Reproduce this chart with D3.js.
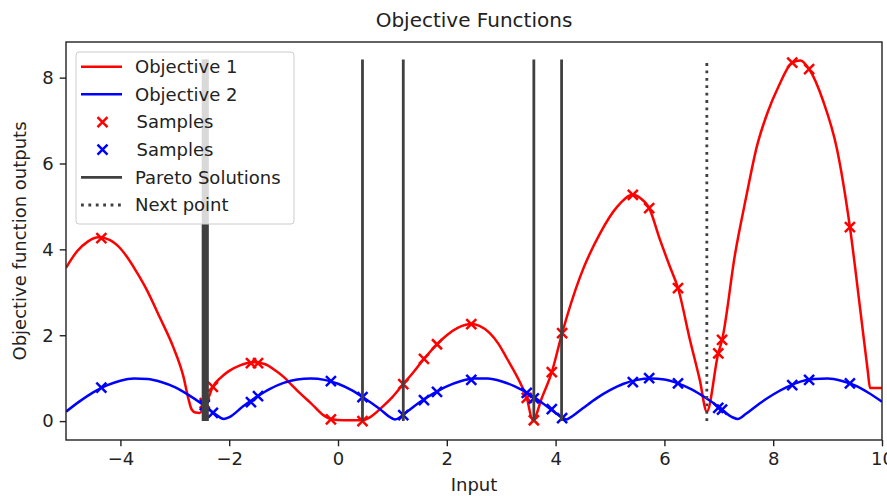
<!DOCTYPE html>
<html>
<head>
<meta charset="utf-8">
<script src="https://cdn.jsdelivr.net/npm/d3@7"></script>
<style>
  body { margin: 0; background: #fff; }
  text { font-family: "DejaVu Sans", sans-serif; fill: #222; }
</style>
</head>
<body>
<svg width="887" height="496"></svg>
<script>
// Chart data
const xTicks = [-4, -2, 0, 2, 4, 6, 8, 10]
const yTicks = [0, 2, 4, 6, 8]

const obj1X = [-5, -4.8, -4.6, -4.4, -4.2, -4.0, -3.88, -3.7, -3.52, -3.27, -3.03, -2.84, -2.75, -2.69, -2.62, -2.54, -2.48, -2.41,
    -2.3, -2.15, -2.0, -1.8, -1.55, -1.35, -1.15, -1.0, -0.88, -0.7, -0.5, -0.27, -0.13, 0.1, 0.3, 0.45, 0.6, 0.83, 1.0,
    1.2, 1.4, 1.58, 1.82, 2.0, 2.2, 2.45, 2.6, 2.79, 2.95, 3.1, 3.35, 3.47, 3.58, 3.75, 3.93, 4.12, 4.45, 4.82, 5.13,
    5.42, 5.55, 5.72, 5.92, 6.1, 6.25, 6.47, 6.65, 6.78, 6.99, 7.06, 7.3, 7.5, 7.7, 7.9, 8.1, 8.35, 8.5, 8.66, 8.92, 9.17,
    9.41, 9.6, 9.74, 9.78, 10]
const obj1Y = [3.57, 3.95, 4.18, 4.28, 4.22, 4.02, 3.83, 3.47, 3.07, 2.4, 1.73, 1.03, 0.52, 0.27, 0.2, 0.19, 0.28, 0.45,
    0.8, 1.02, 1.17, 1.3, 1.37, 1.33, 1.18, 1.03, 0.88, 0.65, 0.42, 0.14, 0.05, 0.02, 0.02, 0.02, 0.1, 0.35, 0.56,
    0.86, 1.16, 1.45, 1.79, 2.0, 2.17, 2.26, 2.22, 2.05, 1.8, 1.47, 0.89, 0.54, 0.02, 0.55, 1.14, 2.05, 3.36, 4.38, 4.99,
    5.27, 5.2, 4.96, 4.22, 3.6, 3.1, 1.89, 0.96, 0.22, 1.58, 1.89, 3.9, 5.2, 6.4, 7.2, 7.8, 8.35, 8.4, 8.2, 7.45, 6.35,
    4.52, 2.6, 1.15, 0.77, 0.77]

const obj2X = [-5, -4.75, -4.5, -4.25, -4.0, -3.75, -3.5, -3.25, -3.0, -2.75, -2.5, -2.25, -2.1, -2.0, -1.75, -1.5, -1.25,
    -1.0, -0.75, -0.5, -0.25, 0, 0.25, 0.5, 0.75, 1.0, 1.05, 1.25, 1.5, 1.75, 2.0, 2.25, 2.5, 2.75, 3.0, 3.25, 3.5, 3.75,
    4.0, 4.2, 4.25, 4.5, 4.75, 5.0, 5.25, 5.5, 5.75, 6.0, 6.25, 6.5, 6.75, 7.0, 7.25, 7.35, 7.5, 7.75, 8.0, 8.25, 8.5,
    8.75, 9.0, 9.25, 9.5, 9.75, 10]
const obj2Y = [0.22, 0.46, 0.67, 0.83, 0.94, 0.99, 0.98, 0.91, 0.79, 0.61, 0.4, 0.16, 0.05, 0.09, 0.34, 0.56, 0.75,
    0.89, 0.97, 0.99, 0.96, 0.87, 0.72, 0.52, 0.3, 0.06, 0.04, 0.2, 0.44, 0.64, 0.81, 0.93, 0.99, 0.99, 0.93, 0.81, 0.64, 0.43,
    0.19, 0.04, 0.07, 0.3, 0.53, 0.72, 0.87, 0.96, 0.99, 0.97, 0.88, 0.74, 0.55, 0.33, 0.09, 0.05, 0.17, 0.41, 0.62, 0.79, 0.92,
    0.98, 0.99, 0.94, 0.83, 0.66, 0.45]

const sampleX = [-4.35, -2.45, -2.3, -1.6, -1.47, -0.13, 0.45, 1.2, 1.58, 1.82, 2.45, 3.47, 3.6, 3.93, 4.12, 5.42, 5.72,
    6.25, 6.99, 7.06, 8.35, 8.66, 9.41]
const sample1Y = [4.26, 0.42, 0.8, 1.35, 1.35, 0.04, 0.0, 0.86, 1.45, 1.79, 2.26, 0.54, 0.02, 1.14, 2.05, 5.27, 4.96,
    3.1, 1.58, 1.89, 8.35, 8.2, 4.52]
const sample2Y = [0.78, 0.37, 0.19, 0.44, 0.58, 0.93, 0.56, 0.14, 0.49, 0.68, 0.96, 0.66, 0.53, 0.28, 0.07, 0.91, 1.0,
    0.88, 0.31, 0.27, 0.84, 0.96, 0.88]

const paretoX = [-2.48, -2.45, -2.42, -2.40, 0.45, 1.2, 3.6, 4.11]
const nextX = [6.78]
const vlineTop = 8.42

const legendLabels = ["Objective 1", "Objective 2", "Samples", "Samples", "Pareto Solutions", "Next point"]

// Layout
const svg = d3.select("svg")
const plotLeft = 66, plotRight = 882, plotTop = 42, plotBottom = 440
const fontSize = 18

const x = d3.scaleLinear().domain([-5, 10]).range([plotLeft, plotRight])
const y = d3.scaleLinear().domain([-0.44, 8.83]).range([plotBottom, plotTop])

const red = "#ff0000"
const blue = "#0000ff"
const gray = "#404040"

svg.append("clipPath").attr("id", "plotclip")
    .append("rect")
    .attr("x", plotLeft).attr("y", plotTop)
    .attr("width", plotRight - plotLeft).attr("height", plotBottom - plotTop)

const plot = svg.append("g").attr("clip-path", "url(#plotclip)")

const obj1 = obj1X.map((d, i) => [d, obj1Y[i]])
const obj2 = obj2X.map((d, i) => [d, obj2Y[i]])

const line = d3.line()
    .x(d => x(d[0]))
    .y(d => y(d[1]))
    .curve(d3.curveMonotoneX)

plot.append("path").datum(obj1)
    .attr("d", line)
    .attr("fill", "none")
    .attr("stroke", red)
    .attr("stroke-width", 2.5)
    .attr("stroke-linejoin", "round")

plot.append("path").datum(obj2)
    .attr("d", line)
    .attr("fill", "none")
    .attr("stroke", blue)
    .attr("stroke-width", 2.5)
    .attr("stroke-linejoin", "round")

const cross = "M-5,-5L5,5M-5,5L5,-5"

function drawSamples(ys, color) {
    plot.append("g")
        .selectAll("path")
        .data(sampleX.map((d, i) => [d, ys[i]]))
        .enter()
        .append("path")
        .attr("d", cross)
        .attr("transform", d => `translate(${x(d[0])},${y(d[1])})`)
        .attr("stroke", color)
        .attr("stroke-width", 2.5)
        .attr("fill", "none")
}

drawSamples(sample1Y, red)
drawSamples(sample2Y, blue)

plot.append("g")
    .selectAll("line")
    .data(paretoX)
    .enter()
    .append("line")
    .attr("x1", d => x(d)).attr("x2", d => x(d))
    .attr("y1", y(0)).attr("y2", y(vlineTop))
    .attr("stroke", gray)
    .attr("stroke-width", 2.8)

plot.append("g")
    .selectAll("line")
    .data(nextX)
    .enter()
    .append("line")
    .attr("x1", d => x(d)).attr("x2", d => x(d))
    .attr("y1", y(0)).attr("y2", y(vlineTop))
    .attr("stroke", gray)
    .attr("stroke-width", 2.8)
    .attr("stroke-dasharray", "2.8,4.6")

// Axes
const xAxis = svg.append("g")
    .attr("transform", `translate(0,${plotBottom})`)
    .call(d3.axisBottom(x).tickValues(xTicks).tickSize(6.3).tickPadding(6))
const yAxis = svg.append("g")
    .attr("transform", `translate(${plotLeft},0)`)
    .call(d3.axisLeft(y).tickValues(yTicks).tickSize(6.3).tickPadding(6))

for (const ax of [xAxis, yAxis]) {
    ax.select(".domain").remove()
    ax.selectAll(".tick line").attr("stroke", "#222").attr("stroke-width", 1.4)
    ax.selectAll(".tick text")
        .attr("font-size", fontSize)
        .attr("font-family", "DejaVu Sans")
        .attr("fill", "#222")
}

svg.append("rect")
    .attr("x", plotLeft).attr("y", plotTop)
    .attr("width", plotRight - plotLeft).attr("height", plotBottom - plotTop)
    .attr("fill", "none")
    .attr("stroke", "#222")
    .attr("stroke-width", 1.4)

svg.append("text")
    .attr("x", (plotLeft + plotRight) / 2).attr("y", 27)
    .attr("text-anchor", "middle")
    .attr("font-size", 20)
    .text("Objective Functions")

svg.append("text")
    .attr("x", (plotLeft + plotRight) / 2).attr("y", 491)
    .attr("text-anchor", "middle")
    .attr("font-size", fontSize)
    .text("Input")

svg.append("text")
    .attr("transform", `translate(26,${(plotTop + plotBottom) / 2}) rotate(-90)`)
    .attr("text-anchor", "middle")
    .attr("font-size", fontSize)
    .text("Objective function outputs")

// Legend
const legend = svg.append("g")
legend.append("rect")
    .attr("x", 76).attr("y", 52)
    .attr("width", 218).attr("height", 172)
    .attr("rx", 3)
    .attr("fill", "rgba(255,255,255,0.8)")
    .attr("stroke", "#cccccc")
    .attr("stroke-width", 1)

const rowY = i => 66.7 + i * 27.66
legendLabels.forEach((label, i) => {
    const g = legend.append("g").attr("transform", `translate(0,${rowY(i)})`)
    if (i === 0 || i === 1 || i === 4) {
        g.append("line")
            .attr("x1", 81).attr("x2", 122)
            .attr("stroke", i === 0 ? red : i === 1 ? blue : gray)
            .attr("stroke-width", i === 4 ? 2.8 : 2.5)
    } else if (i === 5) {
        g.append("line")
            .attr("x1", 81).attr("x2", 122)
            .attr("stroke", gray)
            .attr("stroke-width", 2.8)
            .attr("stroke-dasharray", "2.8,4.6")
    } else {
        g.append("path")
            .attr("d", cross)
            .attr("transform", "translate(102.5,0)")
            .attr("stroke", i === 2 ? red : blue)
            .attr("stroke-width", 2.5)
    }
    g.append("text")
        .attr("x", i === 2 || i === 3 ? 136.5 : 135)
        .attr("dy", "0.35em")
        .attr("font-size", fontSize)
        .text(label)
})
</script>
</body>
</html>
